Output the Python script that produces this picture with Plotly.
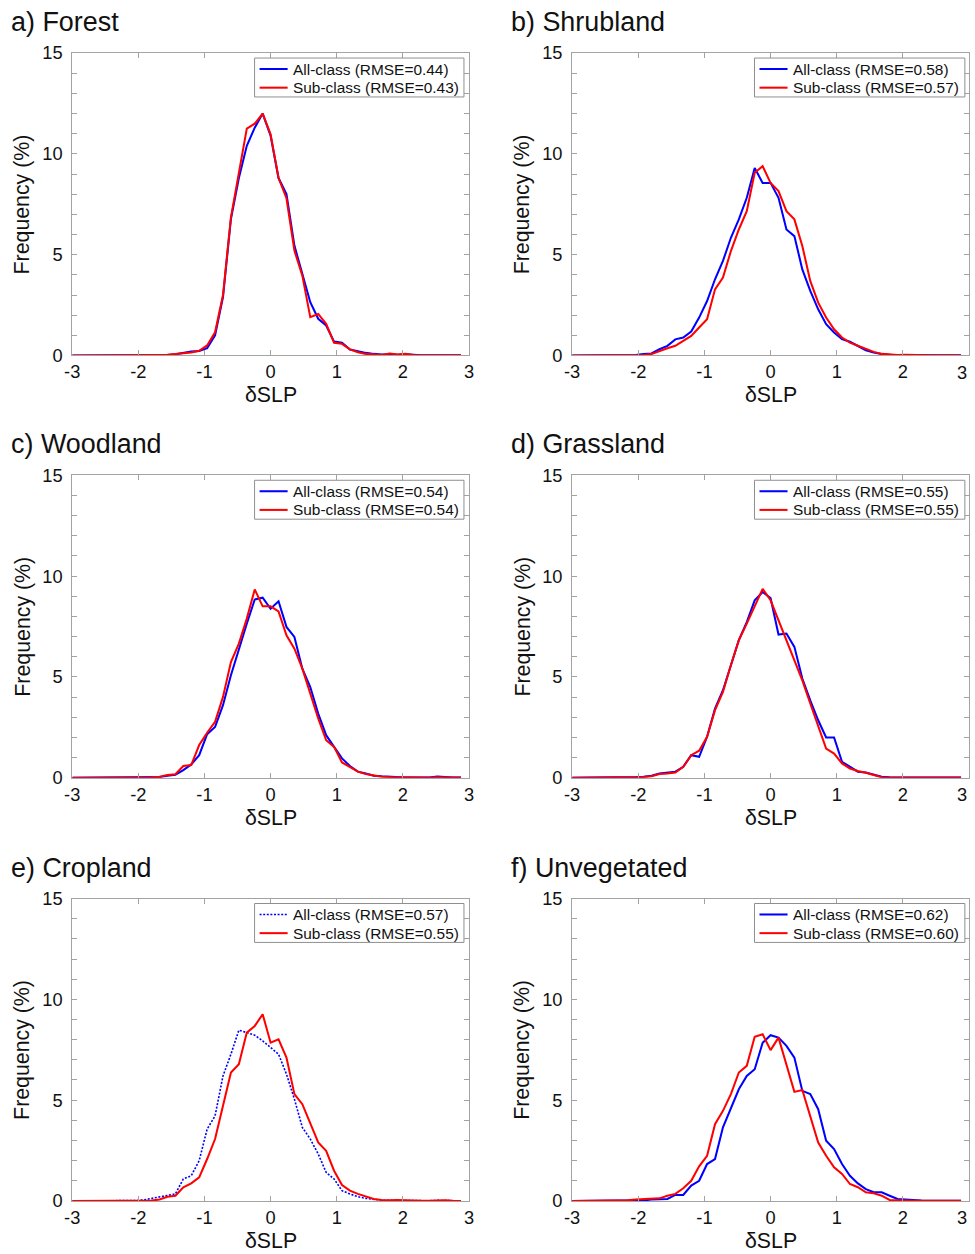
import plotly.graph_objects as go

# ---------------- data ----------------
x_vals = [-3.00, -2.88, -2.76, -2.64, -2.52, -2.40, -2.28, -2.16, -2.04, -1.92,
          -1.80, -1.68, -1.56, -1.44, -1.32, -1.20, -1.08, -0.96, -0.84, -0.72,
          -0.60, -0.48, -0.36, -0.24, -0.12, 0.00, 0.12, 0.24, 0.36, 0.48,
          0.60, 0.72, 0.84, 0.96, 1.08, 1.20, 1.32, 1.44, 1.56, 1.68,
          1.80, 1.92, 2.04, 2.16, 2.28, 2.40, 2.52, 2.64, 2.76, 2.88]

forest_all = [0, 0, 0, 0, 0, 0, 0, 0, 0, 0,
              0.01, 0.02, 0.03, 0.06, 0.12, 0.20, 0.22, 0.36, 1.00, 2.90,
              6.77, 8.80, 10.40, 11.30, 12.00, 10.90, 8.80, 8.00, 5.45, 4.04,
              2.64, 1.82, 1.49, 0.69, 0.63, 0.30, 0.20, 0.13, 0.08, 0.05,
              0.06, 0.04, 0.06, 0.02, 0.01, 0.01, 0.01, 0.01, 0.01, 0.01]
forest_sub = [0, 0, 0, 0, 0, 0, 0, 0, 0, 0,
              0.01, 0.03, 0.04, 0.08, 0.12, 0.15, 0.23, 0.50, 1.15, 3.00,
              6.85, 9.10, 11.25, 11.50, 12.00, 10.97, 8.80, 7.80, 5.20, 3.96,
              1.90, 2.06, 1.57, 0.63, 0.58, 0.30, 0.16, 0.08, 0.05, 0.03,
              0.10, 0.05, 0.08, 0.02, 0.01, 0.01, 0.01, 0.02, 0.01, 0.01]

shrub_all = [0, 0, 0, 0, 0, 0, 0, 0.01, 0.03, 0.07,
             0.10, 0.31, 0.48, 0.80, 0.89, 1.19, 1.88, 2.70, 3.78, 4.69,
             5.84, 6.75, 7.82, 9.30, 8.56, 8.56, 7.82, 6.25, 5.92, 4.27,
             3.20, 2.29, 1.55, 1.14, 0.81, 0.68, 0.48, 0.26, 0.15, 0.07,
             0.04, 0.03, 0.02, 0.01, 0.01, 0.01, 0.01, 0.01, 0.01, 0.01]
shrub_sub = [0, 0, 0, 0, 0, 0, 0, 0, 0, 0.02,
             0.07, 0.23, 0.36, 0.48, 0.73, 0.97, 1.39, 1.80, 3.28, 3.86,
             5.18, 6.25, 7.16, 9.06, 9.39, 8.56, 8.15, 7.16, 6.75, 5.43,
             3.70, 2.62, 1.88, 1.30, 0.89, 0.64, 0.48, 0.31, 0.18, 0.08,
             0.05, 0.03, 0.04, 0.02, 0.02, 0.01, 0.01, 0.02, 0.01, 0.00]

wood_all = [0, 0, 0, 0, 0, 0, 0, 0, 0, 0,
            0, 0.03, 0.10, 0.15, 0.38, 0.66, 1.12, 2.16, 2.52, 3.60,
            5.08, 6.40, 7.64, 8.84, 8.93, 8.38, 8.75, 7.48, 6.98, 5.41,
            4.50, 3.18, 2.11, 1.53, 0.96, 0.58, 0.30, 0.21, 0.10, 0.07,
            0.04, 0.02, 0.01, 0.01, 0.01, 0.01, 0.06, 0.02, 0.01, 0.01]
wood_sub = [0, 0, 0, 0, 0, 0, 0, 0, 0, 0,
            0.02, 0.05, 0.13, 0.17, 0.58, 0.63, 1.62, 2.23, 2.77, 4.01,
            5.74, 6.65, 7.89, 9.34, 8.50, 8.50, 8.25, 7.06, 6.40, 5.41,
            4.17, 2.94, 1.86, 1.53, 0.76, 0.54, 0.30, 0.18, 0.10, 0.05,
            0.03, 0.02, 0.01, 0.01, 0.01, 0.01, 0.02, 0.01, 0.01, 0.01]

grass_all = [0, 0, 0, 0, 0, 0, 0, 0.02, 0.03, 0.05,
             0.10, 0.21, 0.25, 0.30, 0.54, 1.12, 1.04, 2.03, 3.43, 4.34,
             5.58, 6.82, 7.72, 8.80, 9.21, 8.91, 7.10, 7.15, 6.49, 4.92,
             3.84, 2.85, 2.00, 2.00, 0.79, 0.54, 0.30, 0.26, 0.17, 0.05,
             0.02, 0.01, 0.01, 0.01, 0.01, 0.01, 0.01, 0.01, 0.01, 0.01]
grass_sub = [0, 0, 0, 0, 0, 0, 0, 0, 0, 0.03,
             0.07, 0.18, 0.21, 0.26, 0.54, 1.12, 1.34, 2.03, 3.35, 4.26,
             5.58, 6.82, 7.64, 8.50, 9.37, 8.80, 7.81, 6.82, 5.91, 4.83,
             3.68, 2.52, 1.45, 1.20, 0.71, 0.46, 0.33, 0.25, 0.13, 0.02,
             0.01, 0.01, 0.01, 0.01, 0.01, 0.01, 0.01, 0.01, 0.01, 0.01]

crop_all = [0, 0, 0, 0, 0, 0, 0, 0, 0.02, 0.05,
            0.13, 0.21, 0.26, 0.35, 1.09, 1.25, 2.00, 3.56, 4.22, 6.20,
            7.28, 8.47, 8.35, 8.22, 7.94, 7.60, 7.28, 6.29, 5.05, 3.65,
            3.07, 2.33, 1.42, 1.09, 0.51, 0.35, 0.21, 0.13, 0.07, 0.04,
            0.03, 0.02, 0.01, 0.01, 0.01, 0.01, 0.03, 0.01, 0.01, 0.01]
crop_sub = [0, 0, 0, 0, 0, 0, 0, 0, 0, 0.02,
            0.02, 0.07, 0.21, 0.26, 0.68, 0.87, 1.17, 2.08, 3.07, 4.72,
            6.37, 6.78, 8.35, 8.68, 9.26, 7.85, 8.02, 7.11, 5.30, 4.80,
            3.81, 2.90, 2.49, 1.50, 0.79, 0.51, 0.35, 0.21, 0.10, 0.05,
            0.03, 0.05, 0.03, 0.01, 0.01, 0.01, 0.02, 0.04, 0.01, 0.00]

unveg_all = [0, 0, 0, 0, 0, 0, 0, 0, 0.02, 0.03,
             0.07, 0.10, 0.10, 0.30, 0.30, 0.76, 1.00, 1.83, 2.08, 3.65,
             4.64, 5.54, 6.20, 6.53, 7.85, 8.22, 8.10, 7.69, 7.11, 5.46,
             5.30, 4.55, 2.99, 2.57, 1.83, 1.25, 0.87, 0.59, 0.43, 0.43,
             0.26, 0.10, 0.07, 0.03, 0.02, 0.01, 0.01, 0.01, 0.01, 0.01]
unveg_sub = [0, 0, 0, 0, 0, 0, 0.03, 0.03, 0.07, 0.10,
             0.13, 0.13, 0.26, 0.35, 0.63, 1.00, 1.72, 2.24, 3.81, 4.47,
             5.30, 6.37, 6.70, 8.14, 8.27, 7.48, 8.10, 6.78, 5.41, 5.50,
             4.22, 2.90, 2.24, 1.67, 1.34, 0.84, 0.68, 0.43, 0.38, 0.26,
             0.05, 0.03, 0.02, 0.01, 0.01, 0.01, 0.01, 0.01, 0.01, 0.01]

panel_titles = ["a) Forest", "b) Shrubland", "c) Woodland",
                "d) Grassland", "e) Cropland", "f) Unvegetated"]
all_series = [forest_all, shrub_all, wood_all, grass_all, crop_all, unveg_all]
sub_series = [forest_sub, shrub_sub, wood_sub, grass_sub, crop_sub, unveg_sub]
rmse_all = ["0.44", "0.58", "0.54", "0.55", "0.57", "0.62"]
rmse_sub = ["0.43", "0.57", "0.54", "0.55", "0.55", "0.60"]

x_ticks = [-3, -2, -1, 0, 1, 2, 3]
x_ticktext = ["-3", "-2", "-1", "0", "1", "2", "3"]
y_ticks = [0, 5, 10, 15]

# ---------------- layout ----------------
# Page = figure + 8px body margin on every side; the captured page is fitted
# into the 975x1254 picture, so positions below are given in picture pixels
# and converted to figure pixels.
OFF = 8
W, H = 974, 1257
SX = 975 / (W + 2 * OFF)
SY = 1254 / (H + 2 * OFF)
K = 1 / SX                    # size compensation for fonts / lengths
FONT = "Liberation Sans, Arial, Helvetica, sans-serif"
FRAME = "#a3a3a3"
TXT = "#111111"
BLUE = "#0000ff"
RED = "#ff0000"
col_left = [72, 571]          # picture pixels
plot_w = [396, 397]
row_top = [50, 473, 897]
plot_h = 303


def px_x(p):
    return min(1.0, max(0.0, (p / SX - OFF) / W))


def px_y(p):
    return min(1.0, max(0.0, 1 - (p / SY - OFF) / H))


def fs(v):
    return round(v * K, 2)


fig = go.Figure()
layout = dict(width=W, height=H, margin=dict(l=0, r=0, t=0, b=0),
              paper_bgcolor="white", plot_bgcolor="white",
              font=dict(family=FONT, color=TXT), showlegend=False)
annotations = []
shapes = []

for i in range(6):
    r, c = divmod(i, 2)
    x0 = col_left[c]
    x1 = x0 + plot_w[c]
    y0 = row_top[r]
    y1 = y0 + plot_h
    sfx = "" if i == 0 else str(i + 1)
    xa, ya = "x" + sfx, "y" + sfx

    blue_dash = "2px,1.6px" if i == 4 else "solid"
    blue_w = 1.6 if i == 4 else 2
    name_all = f"All-class (RMSE={rmse_all[i]})"
    name_sub = f"Sub-class (RMSE={rmse_sub[i]})"
    fig.add_trace(go.Scatter(x=x_vals, y=all_series[i], mode="lines",
                             line=dict(color=BLUE, width=blue_w * K, dash=blue_dash),
                             name=name_all, xaxis=xa, yaxis=ya, hoverinfo="skip"))
    fig.add_trace(go.Scatter(x=x_vals, y=sub_series[i], mode="lines",
                             line=dict(color=RED, width=2 * K),
                             name=name_sub, xaxis=xa, yaxis=ya, hoverinfo="skip"))

    # the last label of the right-hand column sits on the page edge: it is
    # written as an annotation that ends at the edge instead
    ttext = list(x_ticktext)
    if c == 1:
        ttext[-1] = ""
        annotations.append(dict(text=x_ticktext[-1], x=1.0, y=px_y(y1 + 17),
                                xref="paper", yref="paper", xanchor="right",
                                yanchor="middle", showarrow=False,
                                font=dict(family=FONT, size=fs(18), color=TXT)))

    common = dict(showline=True, linecolor=FRAME, linewidth=1, mirror="ticks",
                  ticks="inside", ticklen=5, tickcolor=FRAME, tickwidth=1,
                  showgrid=False, zeroline=False, fixedrange=True,
                  tickfont=dict(family=FONT, size=fs(18), color=TXT))
    layout["xaxis" + sfx] = dict(common, domain=[px_x(x0), px_x(x1)], anchor=ya,
                                 range=[-3, 3], tickmode="array",
                                 tickvals=x_ticks, ticktext=ttext,
                                 ticklabelstandoff=0)
    layout["yaxis" + sfx] = dict(common, domain=[px_y(y1), px_y(y0)], anchor=xa,
                                 range=[0, 15], tickmode="array", tickvals=y_ticks,
                                 ticklabelstandoff=5,
                                 minor=dict(dtick=1, tick0=0, ticks="inside", ticklen=5,
                                            tickcolor=FRAME, tickwidth=1, showgrid=False))

    # legend box (drawn manually, MATLAB-style)
    lx0, lx1 = x0 + 182, x1 - 5
    ly0, ly1 = y0 + 5, y0 + 44
    shapes.append(dict(type="rect", xref="paper", yref="paper",
                       x0=px_x(lx0), x1=px_x(lx1), y0=px_y(ly1), y1=px_y(ly0),
                       line=dict(color="#8f8f8f", width=1), fillcolor="white", layer="above"))
    for j, (nm, col, dsh, wd) in enumerate([(name_all, BLUE, blue_dash, blue_w),
                                            (name_sub, RED, "solid", 2)]):
        yy = y0 + 16 + j * 18.7
        shapes.append(dict(type="line", xref="paper", yref="paper",
                           x0=px_x(lx0 + 5), x1=px_x(lx0 + 33), y0=px_y(yy), y1=px_y(yy),
                           line=dict(color=col, width=wd * K, dash=dsh), layer="above"))
        annotations.append(dict(text=nm, x=px_x(lx0 + 36), y=px_y(yy), xref="paper",
                                yref="paper", xanchor="left", yanchor="middle",
                                showarrow=False,
                                font=dict(family=FONT, size=fs(15.2), color=TXT)))

    # panel title
    annotations.append(dict(text=panel_titles[i], x=px_x(x0 - 63), y=px_y(y0 - 31),
                            xref="paper", yref="paper", xanchor="left", yanchor="middle",
                            showarrow=False, font=dict(family=FONT, size=fs(26.5), color=TXT)))
    # y-axis title
    annotations.append(dict(text="Frequency (%)", x=px_x(x0 - 50), y=px_y((y0 + y1) / 2),
                            xref="paper", yref="paper", xanchor="center", yanchor="middle",
                            textangle=-90, showarrow=False,
                            font=dict(family=FONT, size=fs(21), color=TXT)))
    # x-axis title
    annotations.append(dict(text="δSLP", x=px_x((x0 + x1) / 2), y=px_y(y1 + 40),
                            xref="paper", yref="paper", xanchor="center", yanchor="middle",
                            showarrow=False, font=dict(family=FONT, size=fs(21), color=TXT)))

layout["annotations"] = annotations
layout["shapes"] = shapes
fig.update_layout(**layout)
fig.write_html("out.html")
